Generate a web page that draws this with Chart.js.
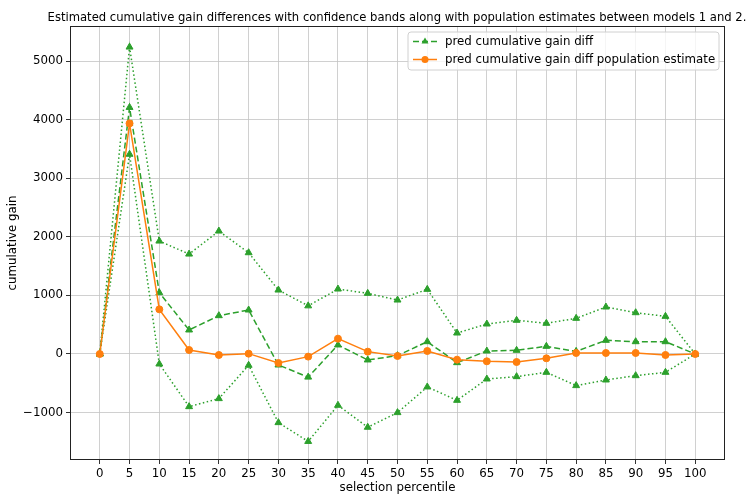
<!DOCTYPE html>
<html><head><meta charset="utf-8">
<script src="https://cdn.jsdelivr.net/npm/chart.js@4/dist/chart.umd.min.js"></script>
<style>html,body{margin:0;padding:0;background:#fff}#wrap{width:751px;height:495px}</style>
</head><body><div id="wrap"><canvas id="c" width="751" height="495"></canvas></div>
<script>
const percentiles = [0,5,10,15,20,25,30,35,40,45,50,55,60,65,70,75,80,85,90,95,100];
const gainDiff = [0,4210,1046,410,654,751,-188,-395,154,-102,-28,210,-148,51,63,131,45,233,210,210,0];
const gainDiffUpper = [0,5240,1928,1706,2099,1729,1092,822,1109,1035,921,1104,358,512,575,524,609,802,705,643,0];
const gainDiffLower = [0,3410,-171,-899,-762,-193,-1172,-1493,-876,-1251,-1001,-563,-791,-427,-387,-313,-540,-444,-370,-313,0];
const populationEstimate = [0,3937,762,68,-17,6,-154,-45,262,40,-34,51,-97,-125,-137,-74,17,17,17,-17,0];
const xTickValues = [0,5,10,15,20,25,30,35,40,45,50,55,60,65,70,75,80,85,90,95,100];
const yTickValues = [-1000,0,1000,2000,3000,4000,5000];
const titleText = 'Estimated cumulative gain differences with confidence bands along with population estimates between models 1 and 2.';
const xLabel = 'selection percentile';
const yLabel = 'cumulative gain';
const legendLabels = ['pred cumulative gain diff', 'pred cumulative gain diff population estimate'];

const GREEN = '#2ca02c', ORANGE = '#ff7f0e';
const FONT = 'DejaVu Sans';
const FS = 11.8;
const TFS = 11.6;
const toPts = arr => arr.map((v, i) => ({x: percentiles[i], y: v}));

const decor = {
  id: 'decor',
  afterDatasetsDraw(chart) {
    const ctx = chart.ctx, a = chart.chartArea;
    ctx.save();
    // frame
    ctx.strokeStyle = '#222';
    ctx.lineWidth = 1;
    ctx.strokeRect(Math.round(a.left) + 0.5, Math.round(a.top) + 0.5, Math.round(a.right - a.left) - 1, Math.round(a.bottom - a.top) - 1);
    // title
    ctx.fillStyle = '#000';
    ctx.font = TFS + 'px "' + FONT + '"';
    ctx.textAlign = 'center';
    ctx.textBaseline = 'alphabetic';
    ctx.fillText(titleText, (a.left + a.right) / 2 - 0.5, 20.5);
    // legend
    const bx = 408, by = 32, bw = 311, bh = 38, r = 3;
    ctx.beginPath();
    ctx.moveTo(bx + r, by);
    ctx.arcTo(bx + bw, by, bx + bw, by + bh, r);
    ctx.arcTo(bx + bw, by + bh, bx, by + bh, r);
    ctx.arcTo(bx, by + bh, bx, by, r);
    ctx.arcTo(bx, by, bx + bw, by, r);
    ctx.closePath();
    ctx.fillStyle = 'rgba(255,255,255,0.8)';
    ctx.fill();
    ctx.strokeStyle = '#d0d0d0';
    ctx.lineWidth = 1;
    ctx.stroke();
    const rows = [
      {y: 41.5, color: GREEN, dash: [6, 3], marker: 'tri', label: legendLabels[0]},
      {y: 59.5, color: ORANGE, dash: [], marker: 'circ', label: legendLabels[1]}
    ];
    rows.forEach(row => {
      ctx.strokeStyle = row.color;
      ctx.lineWidth = 1.5;
      ctx.setLineDash(row.dash);
      ctx.beginPath();
      ctx.moveTo(413, row.y);
      ctx.lineTo(437, row.y);
      ctx.stroke();
      ctx.setLineDash([]);
      ctx.fillStyle = row.color;
      ctx.beginPath();
      if (row.marker === 'tri') {
        const cx = 425, cy = row.y, rr = 4;
        ctx.moveTo(cx, cy - rr);
        ctx.lineTo(cx + rr * 0.866, cy + rr * 0.5);
        ctx.lineTo(cx - rr * 0.866, cy + rr * 0.5);
        ctx.closePath();
      } else {
        ctx.arc(425, row.y, 3.5, 0, Math.PI * 2);
      }
      ctx.fill();
      ctx.fillStyle = '#000';
      ctx.textAlign = 'left';
      ctx.textBaseline = 'middle';
      ctx.font = FS + 'px "' + FONT + '"';
      ctx.fillText(row.label, 445, row.y);
    });
    ctx.restore();
  }
};

const dotted = [1.5, 2.5], dashed = [6, 3];
new Chart(document.getElementById('c'), {
  type: 'line',
  data: {
    datasets: [
      {label: '', data: toPts(gainDiffUpper), borderColor: GREEN, backgroundColor: GREEN, borderWidth: 1.5, borderDash: dotted,
       pointStyle: 'triangle', pointRadius: 4, pointBorderWidth: 1, pointBorderColor: GREEN, pointBackgroundColor: GREEN, tension: 0, fill: false, order: 3},
      {label: legendLabels[0], data: toPts(gainDiff), borderColor: GREEN, backgroundColor: GREEN, borderWidth: 1.5, borderDash: dashed,
       pointStyle: 'triangle', pointRadius: 4, pointBorderWidth: 1, pointBorderColor: GREEN, pointBackgroundColor: GREEN, tension: 0, fill: false, order: 2},
      {label: '', data: toPts(gainDiffLower), borderColor: GREEN, backgroundColor: GREEN, borderWidth: 1.5, borderDash: dotted,
       pointStyle: 'triangle', pointRadius: 4, pointBorderWidth: 1, pointBorderColor: GREEN, pointBackgroundColor: GREEN, tension: 0, fill: false, order: 1},
      {label: legendLabels[1], data: toPts(populationEstimate), borderColor: ORANGE, backgroundColor: ORANGE, borderWidth: 1.5,
       pointStyle: 'circle', pointRadius: 3.5, pointBorderWidth: 1, pointBorderColor: ORANGE, pointBackgroundColor: ORANGE, tension: 0, fill: false, order: 0}
    ]
  },
  options: {
    responsive: false,
    animation: false,
    devicePixelRatio: 1,
    layout: {padding: {left: 0, right: 26, top: 26, bottom: 0}},
    plugins: {legend: {display: false}, tooltip: {enabled: false}, title: {display: false}},
    scales: {
      x: {
        type: 'linear', min: -5, max: 105,
        afterBuildTicks: s => { s.ticks = xTickValues.map(v => ({value: v})); },
        afterFit: s => { s.height = 35; },
        grid: {color: '#c4c4c4', lineWidth: 0.8, tickColor: '#000', tickLength: 4, drawTicks: true},
        border: {display: false},
        ticks: {color: '#000', font: {family: FONT, size: FS}, padding: 3, maxRotation: 0, autoSkip: false, callback: v => String(v)},
        title: {display: true, text: xLabel, color: '#000', font: {family: FONT, size: FS}, padding: {top: 0, bottom: 0}}
      },
      y: {
        type: 'linear', min: -1810, max: 5600,
        afterBuildTicks: s => { s.ticks = yTickValues.map(v => ({value: v})); },
        afterFit: s => { s.width = 70; },
        grid: {color: '#c4c4c4', lineWidth: 0.8, tickColor: '#000', tickLength: 4, drawTicks: true},
        border: {display: false},
        ticks: {color: '#000', font: {family: FONT, size: FS}, padding: 3, callback: v => (v < 0 ? '\u2212' + Math.abs(v) : String(v))},
        title: {display: true, text: yLabel, color: '#000', font: {family: FONT, size: FS}, padding: {top: 6.3, bottom: 0}}
      }
    }
  },
  plugins: [decor]
});
</script>
</body></html>
